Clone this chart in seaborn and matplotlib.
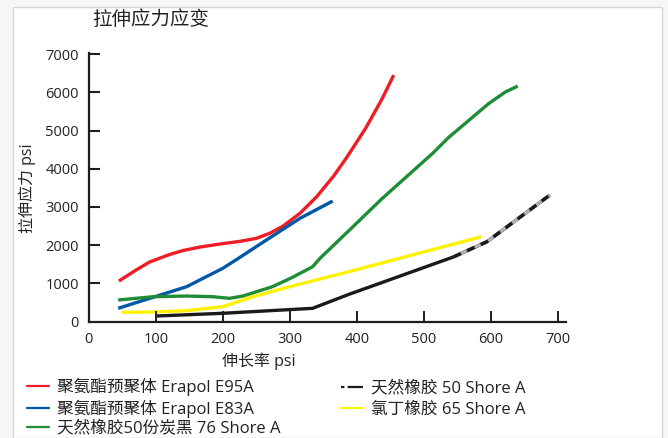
import numpy as np
import pandas as pd
import matplotlib
matplotlib.use("Agg")
import matplotlib.pyplot as plt
import seaborn as sns
from matplotlib.lines import Line2D
from matplotlib.patches import Rectangle

# ---------------- data ----------------
title = "拉伸应力应变"
x_label = "伸长率 psi"
y_label = "拉伸应力 psi"
x_ticks = [0, 100, 200, 300, 400, 500, 600, 700]
y_ticks = [0, 1000, 2000, 3000, 4000, 5000, 6000, 7000]

names = ["聚氨酯预聚体 Erapol E95A",
         "聚氨酯预聚体 Erapol E83A",
         "天然橡胶50份炭黑 76 Shore A",
         "天然橡胶 50 Shore A",
         "氯丁橡胶 65 Shore A"]

e95a_x = [45, 70, 91, 120, 141, 166, 196, 226, 250, 270, 290, 315, 340, 365, 385, 413, 438, 455]
e95a_y = [1060, 1340, 1560, 1750, 1860, 1950, 2030, 2100, 2178, 2309, 2500, 2832, 3267, 3800,
          4300, 5057, 5843, 6453]

e83a_x = [44, 96, 146, 200, 221, 265, 315, 364]
e83a_y = [345, 634, 911, 1393, 1628, 2133, 2701, 3154]

nr76_x = [44, 96, 146, 185, 210, 230, 274, 304, 334, 345, 389, 438, 513, 537, 597, 622, 640]
nr76_y = [563, 649, 667, 649, 607, 667, 911, 1157, 1435, 1654, 2395, 3225, 4403, 4822, 5712,
          6016, 6165]

nr50_x = [101, 200, 334, 388, 544, 594, 688]
nr50_y = [144, 215, 345, 710, 1690, 2089, 3312]

cr65_x = [49, 96, 146, 200, 245, 294, 339, 388, 586]
cr65_y = [240, 249, 283, 388, 649, 885, 1086, 1304, 2220]

colors = ["#ee1c25", "#0059a8", "#1f8d36", "#1a1a1a", "#fff200"]

frames = []
for n, xs, ys in zip(names,
                     [e95a_x, e83a_x, nr76_x, nr50_x, cr65_x],
                     [e95a_y, e83a_y, nr76_y, nr50_y, cr65_y]):
    frames.append(pd.DataFrame({"x": xs, "y": ys, "series": n}))
df = pd.concat(frames, ignore_index=True)

# dashed tail of the 50 Shore A line
tail = pd.DataFrame({"x": nr50_x, "y": nr50_y})
tail = tail[tail["x"] >= 544]

# ---------------- style ----------------
sns.set_theme(style="ticks")
plt.rcParams["font.family"] = ["Open Sans", "Noto Sans CJK SC", "DejaVu Sans"]
plt.rcParams["axes.unicode_minus"] = False

W, H = 668, 438
fig = plt.figure(figsize=(W / 100, H / 100), dpi=100)
fig.patch.set_facecolor("#f6f6f4")
bg = Rectangle((13 / W, 0), (662 - 13) / W, (H - 7) / H,
               transform=fig.transFigure, facecolor="white",
               edgecolor="#d6d6d6", lw=1.0, zorder=-5)
fig.patches.append(bg)

ax_w, ax_h = 566 - 88.7, 321.5 - 52.7
ax = fig.add_axes([88.7 / W, (H - 321.5) / H, ax_w / W, ax_h / H])
ax.set_facecolor("none")

sns.lineplot(data=df, x="x", y="y", hue="series", hue_order=names,
             palette=colors, sort=False, linewidth=2.4, legend=False, ax=ax)
sns.lineplot(data=tail, x="x", y="y", color="#b0b0b0", sort=False,
             linewidth=2.4, ax=ax)
sns.lineplot(data=tail, x="x", y="y", color="#1a1a1a", sort=False,
             linewidth=2.4, ax=ax)
ax.lines[-1].set_dashes([2.5, 2.0])
for ln in ax.lines:
    ln.set_solid_capstyle("butt")
    ln.set_solid_joinstyle("round")

ax.set_xlim(0, 712)
ax.set_ylim(0, 7040)
ax.set_xticks(x_ticks)
ax.set_yticks(y_ticks)
ax.set_xlabel("")
ax.set_ylabel("")
for s in ["top", "right"]:
    ax.spines[s].set_visible(False)
for s in ["left", "bottom"]:
    ax.spines[s].set_linewidth(1.6)
    ax.spines[s].set_color("#1e1e1e")
ax.tick_params(axis="x", which="major", bottom=True, top=False, direction="in",
               length=0, width=1.4, color="#1e1e1e", labelsize=10.5,
               labelcolor="#222222", pad=7.5)
ax.tick_params(axis="y", which="major", left=True, right=False, direction="in",
               length=0, width=1.4, color="#1e1e1e", labelsize=10.5,
               labelcolor="#222222", pad=7)
ax.grid(False)

# inward tick marks drawn at the tick positions
for xt in x_ticks[1:]:
    ax.plot([xt, xt], [0, 10.5 / ax_h], transform=ax.get_xaxis_transform(),
            color="#1e1e1e", lw=1.4, clip_on=False, solid_capstyle="butt", zorder=3)
for yt in y_ticks[1:]:
    ax.plot([0, 11 / ax_w], [yt, yt], transform=ax.get_yaxis_transform(),
            color="#1e1e1e", lw=1.5, clip_on=False, solid_capstyle="butt", zorder=3)

fig.text(151 / W, (H - 20) / H, title, ha="center", va="center",
         fontsize=14, color="#222222")
fig.text(259 / W, (H - 361) / H, x_label, ha="center", va="center",
         fontsize=11.5, color="#222222")
fig.text(27 / W, (H - 188) / H, y_label, ha="center", va="center",
         rotation=90, fontsize=11.5, color="#222222")

handles = [Line2D([], [], color=c, lw=1.6) for c in colors]
handles[3] = Line2D([], [], color="#1a1a1a", lw=1.6, dashes=[1.5, 1.5, 6, 0.01])
leg_kw = dict(frameon=False, fontsize=12, handlelength=1.3, handletextpad=0.5,
              borderpad=0, borderaxespad=0, loc="upper left",
              labelcolor="#222222")
fig.legend(handles[:3], names[:3], bbox_to_anchor=(27 / W, (H - 378) / H),
           labelspacing=0.2, **leg_kw)
fig.legend(handles[3:], names[3:], bbox_to_anchor=(341 / W, (H - 380.5) / H),
           labelspacing=0.3, **leg_kw)

fig.savefig("out.png", dpi=100, facecolor=fig.get_facecolor())
